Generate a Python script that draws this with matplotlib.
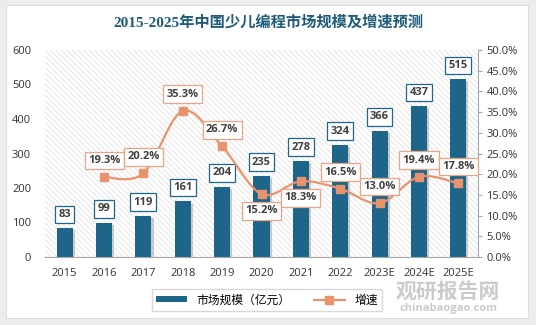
import numpy as np
import matplotlib
matplotlib.use('Agg')
import matplotlib.pyplot as plt
from matplotlib.path import Path
from matplotlib.patches import PathPatch, Rectangle, Patch
from matplotlib.lines import Line2D
from matplotlib.ticker import PercentFormatter
import matplotlib.patheffects as pe

plt.rcParams['font.family'] = ['Open Sans', 'Noto Sans CJK SC', 'DejaVu Sans']
plt.rcParams['hatch.linewidth'] = 0.5

years = ['2015', '2016', '2017', '2018', '2019', '2020', '2021', '2022', '2023E', '2024E', '2025E']
market = [83, 99, 119, 161, 204, 235, 278, 324, 366, 437, 515]
growth_years = ['2016', '2017', '2018', '2019', '2020', '2021', '2022', '2023E', '2024E', '2025E']
growth = [19.3, 20.2, 35.3, 26.7, 15.2, 18.3, 16.5, 13.0, 19.4, 17.8]
# +1 puts the label above the point, -1 below
growth_side = [1, 1, 1, 1, -1, -1, 1, 1, 1, 1]

bar_color = '#1d6689'
line_color = '#e9936d'
label_edge = '#eba287'
text_dark = '#404040'

fig = plt.figure(figsize=(5.36, 3.25), dpi=100, facecolor='#ececec')
panel = Rectangle((6/536, 7/325), 522/536, 313/325, transform=fig.transFigure,
                  facecolor='white', edgecolor='#dedede', lw=0.8, zorder=-10)
fig.patches.append(panel)

fig.text(0.5, 1 - 22/325, '2015-2025年中国少儿编程市场规模及增速预测',
         ha='center', va='center', fontsize=11, fontweight='bold', color='#1f5c7a',
         family=['Liberation Serif', 'Noto Sans CJK SC'])

ax = fig.add_axes([45/536, 1 - 257/325, 433/536, 207/325])
ax.patch.set_alpha(0)
bg = Rectangle((0, 0), 1, 1, transform=ax.transAxes, facecolor='white',
               edgecolor='#dcdcdc', hatch='\\\\\\\\\\\\', lw=0, zorder=-1)
ax.add_patch(bg)

x = np.arange(len(years))
bars = ax.bar(x, market, width=0.41, color=bar_color, zorder=2)
for b in bars:
    b.set_path_effects([pe.SimplePatchShadow(offset=(1.5, -1.5), shadow_rgbFace='#9a9a9a', alpha=0.5),
                        pe.Normal()])
for xi, v in zip(x, market):
    ax.annotate(str(v), (xi, v), xytext=(0, 10), textcoords='offset points',
                ha='center', va='center', fontsize=8, fontweight='bold', color=text_dark,
                bbox=dict(boxstyle='square,pad=0.3', fc='white', ec=bar_color, lw=0.9),
                zorder=5)

ax.set_xlim(-0.5, len(years) - 0.5)
ax.set_ylim(0, 600)
ax.set_yticks(range(0, 601, 100))
ax.set_xticks(x)
ax.set_xticklabels(years)
ax.tick_params(axis='y', length=0, labelsize=8, colors='#333333', pad=10)
ax.tick_params(axis='x', length=0, labelsize=8, colors='#333333', pad=8)
for s in ['top', 'right', 'left']:
    ax.spines[s].set_visible(False)
ax.spines['bottom'].set_color('#a6a6a6')

ax2 = ax.twinx()
ax2.set_ylim(0, 50)
ax2.set_yticks(np.arange(0, 50.1, 5))
ax2.yaxis.set_major_formatter(PercentFormatter(decimals=1))
ax2.tick_params(axis='y', direction='out', length=3, color='#a6a6a6', labelsize=8,
                labelcolor='#333333', pad=3)
for s in ['top', 'left', 'bottom']:
    ax2.spines[s].set_visible(False)
ax2.spines['right'].set_color('#a6a6a6')

# smoothed growth line as cubic bezier segments through the points
gx = np.array([years.index(y) for y in growth_years], dtype=float)
gy = np.array(growth)
pts = np.column_stack([gx, gy])
verts = [pts[0]]
codes = [Path.MOVETO]
n = len(pts)
for i in range(n - 1):
    p0 = pts[max(i - 1, 0)]
    p1 = pts[i]
    p2 = pts[i + 1]
    p3 = pts[min(i + 2, n - 1)]
    c1 = p1 + (p2 - p0) / 6
    c2 = p2 - (p3 - p1) / 6
    verts += [c1, c2, p2]
    codes += [Path.CURVE4] * 3
ax2.add_patch(PathPatch(Path(verts, codes), fill=False, ec=line_color, lw=1.6, zorder=3))
ax2.plot(gx, gy, ls='none', marker='s', ms=5.5, color=line_color, zorder=4)
for xi, v, side in zip(gx, gy, growth_side):
    ax2.annotate(f'{v:.1f}%', (xi, v), xytext=(0, 12 * side), textcoords='offset points',
                 ha='center', va='center', fontsize=8, fontweight='bold', color=text_dark,
                 bbox=dict(boxstyle='square,pad=0.3', fc='white', ec=label_edge, lw=0.9),
                 zorder=6)

handles = [Patch(facecolor=bar_color, edgecolor='none'),
           Line2D([0], [0], color=line_color, lw=1.6, marker='s', ms=5.5)]
fig.legend(handles, ['市场规模（亿元）', '增速'], loc='center', ncol=2,
           bbox_to_anchor=(267/536, 1 - 300/325), frameon=True, fancybox=False,
           edgecolor='#cfcfcf', handlelength=2.6, handleheight=0.45,
           columnspacing=2.0, borderpad=0.4, prop={'family': ['Noto Sans CJK SC'], 'size': 8.5})

# watermark
fig.text(448/536, 1 - 291/325, '观研报告网', ha='center', va='center', fontsize=15,
         fontweight='bold', color='#a8a8a8', alpha=0.6, family=['Noto Sans CJK SC'])
fig.text(448/536, 1 - 309/325, 'chinabaogao.com', ha='center', va='center', fontsize=8,
         fontweight='bold', color='#a8a8a8', alpha=0.6)

fig.savefig('out.png', dpi=100, facecolor=fig.get_facecolor())
